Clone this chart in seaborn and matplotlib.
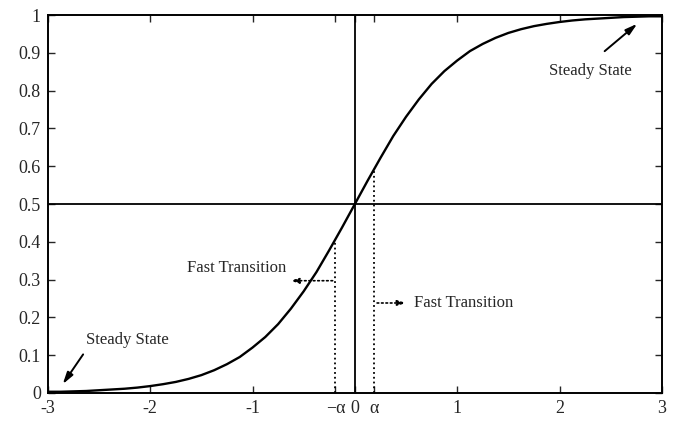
import pandas as pd
import matplotlib
matplotlib.use("Agg")
import matplotlib.pyplot as plt
import seaborn as sns

# curve values
x_vals = [-3.0, -2.875, -2.75, -2.625, -2.5, -2.375, -2.25, -2.125,
          -2.0, -1.875, -1.75, -1.625, -1.5, -1.375, -1.25, -1.125,
          -1.0, -0.875, -0.75, -0.625, -0.5, -0.375, -0.25, -0.125,
          0.0,
          0.125, 0.25, 0.375, 0.5, 0.625, 0.75, 0.875, 1.0,
          1.125, 1.25, 1.375, 1.5, 1.625, 1.75, 1.875, 2.0,
          2.125, 2.25, 2.375, 2.5, 2.625, 2.75, 2.875, 3.0]
y_vals = [0.003, 0.003, 0.004, 0.005, 0.007, 0.009, 0.011, 0.014,
          0.018, 0.023, 0.029, 0.037, 0.047, 0.06, 0.076, 0.095,
          0.12, 0.148, 0.182, 0.223, 0.269, 0.32, 0.378, 0.438,
          0.5,
          0.562, 0.622, 0.68, 0.731, 0.777, 0.818, 0.852, 0.88,
          0.905, 0.924, 0.94, 0.953, 0.963, 0.971, 0.977, 0.982,
          0.986, 0.989, 0.991, 0.993, 0.995, 0.996, 0.997, 0.997]

alpha = 0.19
x_ticks = [-3, -2, -1, -alpha, 0, alpha, 1, 2, 3]
x_tick_labels = ['-3', '-2', '-1', '\u2212\u03b1', '0', '\u03b1', '1', '2', '3']
y_ticks = [0, 0.1, 0.2, 0.3, 0.4, 0.5, 0.6, 0.7, 0.8, 0.9, 1]
y_tick_labels = ['0', '0.1', '0.2', '0.3', '0.4', '0.5', '0.6', '0.7', '0.8', '0.9', '1']

df = pd.DataFrame({'x': x_vals, 'y': y_vals})

sns.set_style("ticks")
plt.rcParams['font.family'] = ['Liberation Serif', 'DejaVu Serif']

fig = plt.figure(figsize=(6.74, 4.22), dpi=100)
ax = fig.add_axes([0.071, 0.069, 0.911, 0.895])

sns.lineplot(data=df, x='x', y='y', color='black', linewidth=1.7, ax=ax)

# solid cross lines
ax.axhline(0.5, color='black', linewidth=1.3)
ax.axvline(0, color='black', linewidth=1.3)

# dotted markers at +/- alpha
ax.plot([-alpha, -alpha], [0, 0.40], color='black', linestyle=':', linewidth=1.3)
ax.plot([alpha, alpha], [0, 0.595], color='black', linestyle=':', linewidth=1.3)

ax.annotate('', xy=(-0.66, 0.297), xytext=(-alpha, 0.297),
            arrowprops=dict(arrowstyle='-|>,head_length=0.5,head_width=0.15',
                            color='black', linestyle=':', linewidth=1.2))
ax.annotate('', xy=(0.53, 0.238), xytext=(alpha, 0.238),
            arrowprops=dict(arrowstyle='-|>,head_length=0.5,head_width=0.15',
                            color='black', linestyle=':', linewidth=1.2))
ax.text(-0.67, 0.33, 'Fast Transition', fontsize=12, ha='right', va='center')
ax.text(0.58, 0.238, 'Fast Transition', fontsize=12, ha='left', va='center')

# steady state arrows
ax.annotate('', xy=(2.78, 0.982), xytext=(2.42, 0.9),
            arrowprops=dict(arrowstyle='-|>,head_length=0.7,head_width=0.2',
                            color='black', linewidth=1.4))
ax.text(2.3, 0.852, 'Steady State', fontsize=12, ha='center', va='center')
ax.annotate('', xy=(-2.87, 0.017), xytext=(-2.64, 0.108),
            arrowprops=dict(arrowstyle='-|>,head_length=0.7,head_width=0.2',
                            color='black', linewidth=1.4))
ax.text(-2.22, 0.14, 'Steady State', fontsize=12, ha='center', va='center')

ax.set_xlim(-3, 3)
ax.set_ylim(0, 1)
ax.set_xticks(x_ticks)
ax.set_xticklabels(x_tick_labels, fontsize=13)
ax.set_yticks(y_ticks)
ax.set_yticklabels(y_tick_labels, fontsize=13)
ax.set_xlabel('')
ax.set_ylabel('')
ax.tick_params(direction='in', top=True, right=True, length=5, width=1, pad=5)
for s in ax.spines.values():
    s.set_linewidth(1.4)
    s.set_color('black')

fig.savefig('out.png', dpi=100)
